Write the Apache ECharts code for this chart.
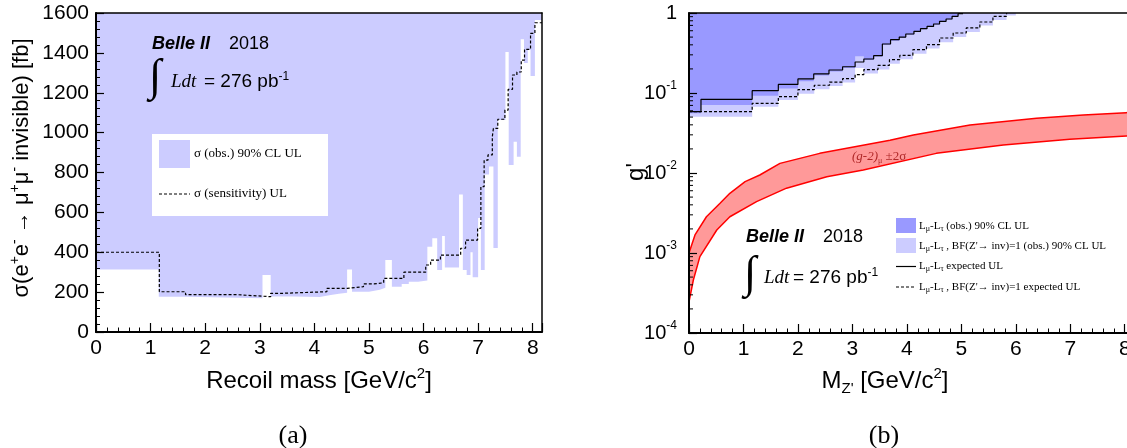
<!DOCTYPE html>
<html><head><meta charset="utf-8">
<script src="https://cdn.jsdelivr.net/npm/echarts@6/dist/echarts.min.js"></script>
<style>html,body{margin:0;padding:0;background:#fff}#c{width:1127px;height:448px}</style>
</head><body><div id="c"></div>
<script>
// ---------- (a) left panel data ----------
const obsX = [0, 1.15, 1.65, 3.05, 3.2, 3.6, 4.1, 4.3, 4.45, 4.6, 4.69, 5.0, 5.2, 5.3, 5.42, 5.6, 5.73, 5.9, 6.07, 6.16, 6.25, 6.34, 6.39, 6.65, 6.72, 6.79, 6.86, 6.9, 7.0, 7.05, 7.12, 7.2, 7.28, 7.36, 7.5, 7.56, 7.65, 7.71, 7.78, 7.84, 7.91, 7.96, 8.04, 8.17];
const obsY = [314, 177, 169, 286, 178, 175, 185, 192, 197, 314, 202, 212, 222, 361, 227, 241, 252, 258, 428, 470, 311, 481, 323, 690, 311, 286, 400, 275, 572, 311, 790, 830, 421, 1063, 1405, 837, 954, 879, 1468, 1349, 1414, 1284, 1565, 1565];
const sensX = [0, 1.16, 1.64, 2.6, 3.2, 3.41, 4.23, 4.6, 4.9, 5.09, 5.27, 5.64, 6.04, 6.13, 6.31, 6.68, 6.77, 6.99, 7.05, 7.11, 7.18, 7.26, 7.28, 7.36, 7.49, 7.55, 7.63, 7.71, 7.79, 7.85, 7.96, 8.04, 8.17];
const sensY = [400, 202, 187, 177, 194, 202, 219, 227, 241, 247, 269, 300, 336, 361, 386, 420, 461, 520, 729, 862, 888, 980, 1021, 1067, 1113, 1217, 1289, 1304, 1364, 1418, 1498, 1551, 1551];
const xTickLabels = [0, 1, 2, 3, 4, 5, 6, 7, 8];

// ---------- (b) right panel data ----------
const darkX = [0, 0.22, 1.16, 1.64, 2.0, 2.29, 2.57, 2.82, 3.05, 3.21, 3.39, 3.55, 3.70, 3.86, 3.98, 4.13, 4.25, 4.37, 4.49, 4.60, 4.72, 4.83, 4.94, 5.03];
const darkY = [0.056, 0.0707, 0.0925, 0.114, 0.14, 0.165, 0.186, 0.205, 0.287, 0.258, 0.285, 0.40, 0.45, 0.49, 0.535, 0.58, 0.625, 0.67, 0.715, 0.77, 0.83, 0.895, 0.97, 1.0];
const lightX = [0, 1.16, 1.64, 2.0, 2.3, 2.58, 2.82, 3.05, 3.21, 3.47, 3.68, 3.87, 4.11, 4.36, 4.6, 4.85, 5.09, 5.34, 5.58, 5.83, 6.0];
const lightY = [0.0506, 0.0675, 0.0818, 0.098, 0.111, 0.122, 0.135, 0.205, 0.175, 0.197, 0.232, 0.265, 0.31, 0.36, 0.43, 0.50, 0.58, 0.70, 0.82, 0.93, 1.0];
const expX = [0, 0.22, 1.16, 1.64, 2.0, 2.29, 2.57, 2.82, 3.05, 3.21, 3.39, 3.55, 3.70, 3.86, 3.98, 4.13, 4.25, 4.37, 4.49, 4.60, 4.72, 4.83, 4.94, 5.03];
const expY = [0.0584, 0.0833, 0.107, 0.128, 0.150, 0.173, 0.194, 0.213, 0.244, 0.266, 0.293, 0.41, 0.464, 0.50, 0.546, 0.59, 0.637, 0.68, 0.729, 0.787, 0.841, 0.908, 0.98, 1.0];
const expBfX = [0, 1.16, 1.64, 2.0, 2.3, 2.58, 2.82, 3.05, 3.21, 3.47, 3.68, 3.87, 4.11, 4.36, 4.6, 4.85, 5.09, 5.34, 5.58, 5.83];
const expBfY = [0.0584, 0.0743, 0.0899, 0.110, 0.125, 0.137, 0.151, 0.17, 0.196, 0.222, 0.261, 0.296, 0.348, 0.402, 0.487, 0.562, 0.65, 0.772, 0.908, 1.0];
const gUpX = [0, 0.11, 0.32, 0.57, 0.75, 1.03, 1.30, 1.67, 2.40, 3.69, 4.12, 5.16, 6.38, 7.24, 8.03, 8.17];
const gUpY = [0.00100, 0.00168, 0.00284, 0.00418, 0.00557, 0.0078, 0.00944, 0.0132, 0.0176, 0.0257, 0.0299, 0.0398, 0.0482, 0.0531, 0.0568, 0.0575];
const gLoX = [0, 0.08, 0.2, 0.51, 0.75, 1.24, 1.79, 2.53, 3.2, 4.54, 5.77, 6.99, 8.03, 8.17];
const gLoY = [0.000245, 0.00046, 0.0009, 0.00194, 0.00284, 0.00439, 0.00646, 0.009, 0.0109, 0.0176, 0.0224, 0.0264, 0.029, 0.0293];
const logMantissas = [2, 3, 4, 5, 6, 7, 8, 9];
const logDecades = [1e-4, 1e-3, 1e-2, 1e-1];

const SANS = 'Liberation Sans', SERIF = 'Liberation Serif';
const X_MAX = 8.17;
const zip = (xs, ys) => xs.map((x, i) => [x, ys[i]]);
const logMinor = [];
logDecades.forEach(d => logMantissas.forEach(m => logMinor.push([0, m * d])));

function majorX(g) {
  return {gridIndex: g, type: 'value', min: 0, max: X_MAX, interval: 1, position: 'bottom', z: 5,
    axisLine: {show: true, onZero: false, lineStyle: {color: '#000', width: 2}},
    axisTick: {show: true, inside: true, length: 9, lineStyle: {color: '#000', width: 1.2}},
    axisLabel: {show: true, margin: 6, color: '#000', fontFamily: SANS, fontSize: 21,
      formatter: v => (xTickLabels.indexOf(Math.round(v * 1000) / 1000) >= 0 ? String(Math.round(v)) : '')},
    splitLine: {show: false}};
}
function minorX(g) {
  return {gridIndex: g, type: 'value', min: 0, max: X_MAX, interval: 0.2, position: 'bottom', z: 5,
    axisLine: {show: false}, axisTick: {show: true, inside: true, length: 4.5, lineStyle: {color: '#000', width: 1}},
    axisLabel: {show: false}, splitLine: {show: false}};
}
function topX(g) {
  return {gridIndex: g, type: 'value', min: 0, max: X_MAX, position: 'top', z: 5,
    axisLine: {show: true, onZero: false, lineStyle: {color: '#000', width: 1.5}},
    axisTick: {show: false}, axisLabel: {show: false}, splitLine: {show: false}};
}

function txt(x, y, text, st, extra) {
  return Object.assign({type: 'text', x: x, y: y, z: 100,
    style: Object.assign({text: text, fill: '#000', fontFamily: SANS, fontSize: 18, align: 'left', verticalAlign: 'middle'}, st)}, extra || {});
}
const supRich = (fs, lh) => ({s: {fontSize: fs, lineHeight: lh, verticalAlign: 'top', fontFamily: SANS, fill: '#000'}});
const legSub = {sb: {fontSize: 8, lineHeight: 8, verticalAlign: 'bottom', fontFamily: SERIF, fill: '#000'}};

const graphic = [
  // left legend
  {type: 'rect', z: 100, shape: {x: 152, y: 134, width: 176, height: 82}, style: {fill: '#fff'}},
  {type: 'rect', z: 101, shape: {x: 159, y: 140, width: 31, height: 28}, style: {fill: '#ccccff'}},
  txt(194, 154, 'σ (obs.) 90% CL UL', {fontFamily: SERIF, fontSize: 13}),
  {type: 'line', z: 101, shape: {x1: 159, y1: 194, x2: 190, y2: 194}, style: {stroke: '#000', lineWidth: 1.2, lineDash: [3, 2]}},
  txt(194, 194, 'σ (sensitivity) UL', {fontFamily: SERIF, fontSize: 13}),
  // left Belle II label
  txt(152, 44, 'Belle II', {fontSize: 18, fontWeight: 'bold', fontStyle: 'italic'}),
  txt(229, 44, '2018', {fontSize: 18}),
  txt(155, 78, '∫', {fontFamily: SERIF, fontSize: 45, align: 'center'}),
  txt(171, 82, 'Ldt', {fontFamily: SERIF, fontStyle: 'italic', fontSize: 19}),
  txt(204, 82, '= 276 pb{s|-1}', {fontSize: 19, lineHeight: 22, rich: supRich(12, 12)}),
  // right Belle II label
  txt(746, 237, 'Belle II', {fontSize: 18, fontWeight: 'bold', fontStyle: 'italic'}),
  txt(823, 237, '2018', {fontSize: 18}),
  txt(750, 275, '∫', {fontFamily: SERIF, fontSize: 45, align: 'center'}),
  txt(764, 278, 'Ldt', {fontFamily: SERIF, fontStyle: 'italic', fontSize: 19}),
  txt(793, 278, '= 276 pb{s|-1}', {fontSize: 19, lineHeight: 22, rich: supRich(12, 12)}),
  // right legend
  {type: 'rect', z: 101, shape: {x: 896, y: 218, width: 20, height: 15}, style: {fill: '#9999ff'}},
  txt(919, 226, 'L{sb|μ}-L{sb|τ} (obs.) 90% CL UL', {fontFamily: SERIF, fontSize: 11, lineHeight: 14, rich: legSub}),
  {type: 'rect', z: 101, shape: {x: 896, y: 238, width: 20, height: 15}, style: {fill: '#ccccff'}},
  txt(919, 246, "L{sb|μ}-L{sb|τ} , BF(Z'→ inv)=1 (obs.) 90% CL UL", {fontFamily: SERIF, fontSize: 11, lineHeight: 14, rich: legSub}),
  {type: 'line', z: 101, shape: {x1: 896, y1: 266.5, x2: 916, y2: 266.5}, style: {stroke: '#000', lineWidth: 1.2}},
  txt(919, 266, 'L{sb|μ}-L{sb|τ} expected UL', {fontFamily: SERIF, fontSize: 11, lineHeight: 14, rich: legSub}),
  {type: 'line', z: 101, shape: {x1: 896, y1: 287, x2: 916, y2: 287}, style: {stroke: '#000', lineWidth: 1.2, lineDash: [3, 2]}},
  txt(919, 287, "L{sb|μ}-L{sb|τ} , BF(Z'→ inv)=1 expected UL", {fontFamily: SERIF, fontSize: 11, lineHeight: 14, rich: legSub}),
  // g-2 label
  txt(852, 157, '{i|(g-2)}{u|μ}{n| ±2σ}', {fontFamily: SERIF, fontSize: 13, fill: '#b02828', lineHeight: 16,
    rich: {i: {fontFamily: SERIF, fontStyle: 'italic', fontSize: 13, lineHeight: 16, fill: '#b02828'},
           u: {fontFamily: SERIF, fontSize: 8, lineHeight: 8, verticalAlign: 'bottom', fill: '#b02828'},
           n: {fontFamily: SERIF, fontSize: 13, lineHeight: 16, fill: '#b02828'}}}),
  // axis titles
  txt(22, 168, 'σ(e{s|+}e{s|-} → μ{s|+}μ{s|-} invisible) [fb]', {fontSize: 22, lineHeight: 28, align: 'center', rich: supRich(14, 14)}, {rotation: Math.PI / 2}),
  txt(319, 381, 'Recoil mass [GeV/c{s|2}]', {fontSize: 24, lineHeight: 30, align: 'center', rich: supRich(15, 15)}),
  txt(636, 172, "g'", {fontSize: 24, align: 'center'}, {rotation: Math.PI / 2}),
  txt(885, 381, "M{b|Z'} [GeV/c{s|2}]", {fontSize: 24, lineHeight: 30, align: 'center',
    rich: Object.assign(supRich(15, 15), {b: {fontSize: 15, lineHeight: 15, verticalAlign: 'bottom', fontFamily: SANS, fill: '#000'}})}),
  txt(293, 436, '(a)', {fontFamily: SERIF, fontSize: 26, align: 'center'}),
  txt(884, 436, '(b)', {fontFamily: SERIF, fontSize: 26, align: 'center'})
];

const noLine = {width: 0, opacity: 0};
const option = {
  animation: false,
  backgroundColor: '#fff',
  grid: [
    {left: 96, top: 13, width: 446, height: 319, show: true, backgroundColor: '#ccccff', borderWidth: 0, outerBoundsMode: 'none'},
    {left: 689, top: 13, width: 445, height: 320, show: false, outerBoundsMode: 'none'}
  ],
  xAxis: [majorX(0), minorX(0), topX(0), majorX(1), minorX(1), topX(1)],
  yAxis: [
    {gridIndex: 0, type: 'value', min: 0, max: 1600, interval: 200, z: 5,
      axisLine: {show: true, onZero: false, lineStyle: {color: '#000', width: 2}},
      axisTick: {show: true, inside: true, length: 8, lineStyle: {color: '#000', width: 1.2}},
      minorTick: {show: true, splitNumber: 5, length: 4, lineStyle: {color: '#000', width: 1}},
      axisLabel: {margin: 7, color: '#000', fontFamily: SANS, fontSize: 21, formatter: v => String(v)},
      splitLine: {show: false}, minorSplitLine: {show: false}},
    {gridIndex: 0, type: 'value', min: 0, max: 1600, position: 'right', z: 5,
      axisLine: {show: true, onZero: false, lineStyle: {color: '#000', width: 1.5}},
      axisTick: {show: false}, axisLabel: {show: false}, splitLine: {show: false}},
    {gridIndex: 1, type: 'log', logBase: 10, min: 1e-4, max: 1, z: 5,
      axisLine: {show: true, onZero: false, lineStyle: {color: '#000', width: 2}},
      axisTick: {show: true, inside: true, length: 8, lineStyle: {color: '#000', width: 1.2}},
      axisLabel: {margin: 12, color: '#000', fontFamily: SANS, fontSize: 20, lineHeight: 26,
        formatter: v => { const e = Math.round(Math.log10(v)); return e === 0 ? '1' : '10{s|-' + (-e) + '}'; },
        rich: {s: {fontSize: 12, lineHeight: 12, verticalAlign: 'top', fontFamily: SANS, color: '#000'}}},
      splitLine: {show: false}}
  ],
  series: [
    {type: 'line', xAxisIndex: 0, yAxisIndex: 0, step: 'end', symbol: 'none', silent: true,
      data: zip(obsX, obsY), lineStyle: noLine, areaStyle: {color: '#ffffff', opacity: 1, origin: 'start'}},
    {type: 'line', xAxisIndex: 0, yAxisIndex: 0, step: 'end', symbol: 'none', silent: true,
      data: zip(sensX, sensY), lineStyle: {color: '#000', width: 1.2, type: [3, 2]}},
    {type: 'line', xAxisIndex: 3, yAxisIndex: 2, step: 'end', symbol: 'none', silent: true,
      data: zip(lightX, lightY), lineStyle: noLine, areaStyle: {color: '#ccccff', opacity: 1, origin: 'end'}},
    {type: 'line', xAxisIndex: 3, yAxisIndex: 2, step: 'end', symbol: 'none', silent: true,
      data: zip(darkX, darkY), lineStyle: noLine, areaStyle: {color: '#9999ff', opacity: 1, origin: 'end'}},
    {type: 'line', xAxisIndex: 3, yAxisIndex: 2, symbol: 'none', silent: true,
      data: zip(gUpX, gUpY), lineStyle: {color: '#ff0000', width: 1.5}, areaStyle: {color: '#ff9999', opacity: 1, origin: 'start'}},
    {type: 'line', xAxisIndex: 3, yAxisIndex: 2, symbol: 'none', silent: true,
      data: zip(gLoX, gLoY), lineStyle: {color: '#ff0000', width: 1.5}, areaStyle: {color: '#ffffff', opacity: 1, origin: 'start'}},
    {type: 'line', xAxisIndex: 3, yAxisIndex: 2, step: 'end', symbol: 'none', silent: true,
      data: zip(expX, expY), lineStyle: {color: '#000', width: 1.2}},
    {type: 'line', xAxisIndex: 3, yAxisIndex: 2, step: 'end', symbol: 'none', silent: true,
      data: zip(expBfX, expBfY), lineStyle: {color: '#000', width: 1.2, type: [3, 2]}},
    {type: 'custom', xAxisIndex: 3, yAxisIndex: 2, silent: true, z: 6, clip: false, data: logMinor,
      renderItem: (params, api) => {
        const p = api.coord([api.value(0), api.value(1)]);
        return {type: 'line', shape: {x1: p[0], y1: p[1], x2: p[0] + 4, y2: p[1]}, style: {stroke: '#000', lineWidth: 1}};
      }}
  ],
  graphic: graphic
};
const chart = echarts.init(document.getElementById('c'));
chart.setOption(option);
</script></body></html>
